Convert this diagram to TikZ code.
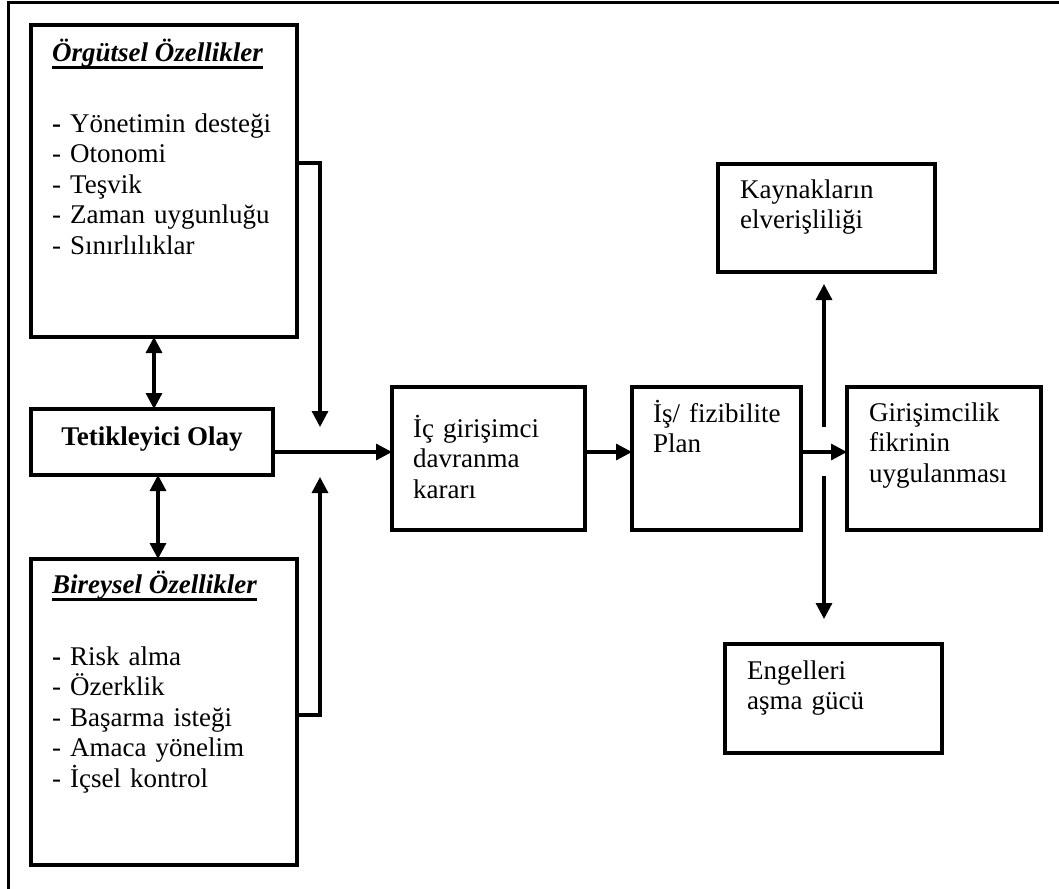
\documentclass[tikz,border=0pt]{standalone}
\usepackage{fontspec}
\setmainfont{Liberation Serif}
\usetikzlibrary{arrows.meta}
\begin{document}
\begin{tikzpicture}[x=1pt,y=-1pt,
  box/.style={draw,line width=3.2pt,inner sep=0pt,outer sep=0pt,anchor=north west},
  txt/.style={anchor=base west,inner sep=0pt,align=left,text width=250pt,
    font=\fontsize{27}{30.5}\selectfont},
  ttl/.style={anchor=base west,inner sep=0pt,font=\fontsize{27}{30.5}\selectfont\bfseries\itshape},
  arr/.style={line width=3.2pt,-{Triangle[length=16pt,width=16pt]}},
  dbl/.style={line width=3.2pt,{Triangle[length=16pt,width=16pt]}-{Triangle[length=16pt,width=16pt]}},
  uline/.style={line width=2.4pt}
  ]
\useasboundingbox (0,0) rectangle (1059,888);
% outer frame (only its top and left sides fall inside the page)
\draw[line width=3pt] (8,1000) -- (8,2.5) -- (1100,2.5);

% left column
\node[box,minimum width=266pt,minimum height=312pt] (org) at (31,25) {};
\node[ttl] (orgt) at (52,62) {Örgütsel Özellikler};
\draw[uline] ([yshift=-5.5pt]orgt.base west) -- ([yshift=-5.5pt]orgt.base east);
\node[txt] (orgl) at (52,132) {\textbf{-} Yönetimin desteği\\- Otonomi\\- Teşvik\\- Zaman uygunluğu\\- Sınırlılıklar};

\node[box,minimum width=242pt,minimum height=66pt] (tet) at (31,409) {};
\node[anchor=base,inner sep=0pt,font=\fontsize{27}{30.5}\selectfont\bfseries] (tett) at (152,445) {Tetikleyici Olay};

\node[box,minimum width=266pt,minimum height=306pt] (bir) at (31,559) {};
\node[ttl] (birt) at (52,593) {Bireysel Özellikler};
\draw[uline] ([yshift=-6.5pt]birt.base west) -- ([yshift=-6.5pt]birt.base east);
\node[txt] (birl) at (52,665) {\textbf{-} Risk alma\\- Özerklik\\- Başarma isteği\\- Amaca yönelim\\- İçsel kontrol};

% middle and right boxes
\node[box,minimum width=193pt,minimum height=143pt] (ic) at (392,387) {};
\node[txt,text width=170pt] (ict) at (413,437) {İç girişimci\\davranma\\kararı};

\node[box,minimum width=169pt,minimum height=143pt] (is) at (632,387) {};
\node[txt,text width=150pt] (ist) at (653,422) {İş/ fizibilite\\Plan};

\node[box,minimum width=194pt,minimum height=143pt] (gir) at (847,387) {};
\node[txt,text width=180pt] (girt) at (869,421) {Girişimcilik\\fikrinin\\uygulanması};

\node[box,minimum width=217pt,minimum height=108pt] (kay) at (718,164) {};
\node[txt,text width=190pt] (kayt) at (740,198) {Kaynakların\\elverişliliği};

\node[box,minimum width=217pt,minimum height=109pt] (eng) at (725,644) {};
\node[txt,text width=190pt] (engt) at (747,679) {Engelleri\\aşma gücü};

% junction points
\coordinate (orgout) at (297,163);
\coordinate (birout) at (297,715);
\coordinate (jtop) at (320,427);
\coordinate (jbot) at (320,477);
\coordinate (mid) at (320,452);
\coordinate (rj) at (824,452);
\coordinate (rtop) at (824,427);
\coordinate (rbot) at (824,476);
\coordinate (kaytip) at (824,284);
\coordinate (engtip) at (824,619);
\coordinate (da) at (154,0);
\coordinate (db) at (158,0);

% connectors
\draw[dbl] (org.south -| da) -- (tet.north -| da);
\draw[dbl] (tet.south -| db) -- (bir.north -| db);
\draw[arr] (orgout) -| (jtop);
\draw[arr] (birout) -| (jbot);
\draw[arr] (tet.east |- mid) -- (ic.west |- mid);
\draw[arr] (ic.east |- mid) -- (is.west |- mid);
\draw[arr] (is.east |- rj) -- (gir.west |- rj);
\draw[arr] (rtop) -- (kaytip);
\draw[arr] (rbot) -- (engtip);
\end{tikzpicture}
\end{document}
